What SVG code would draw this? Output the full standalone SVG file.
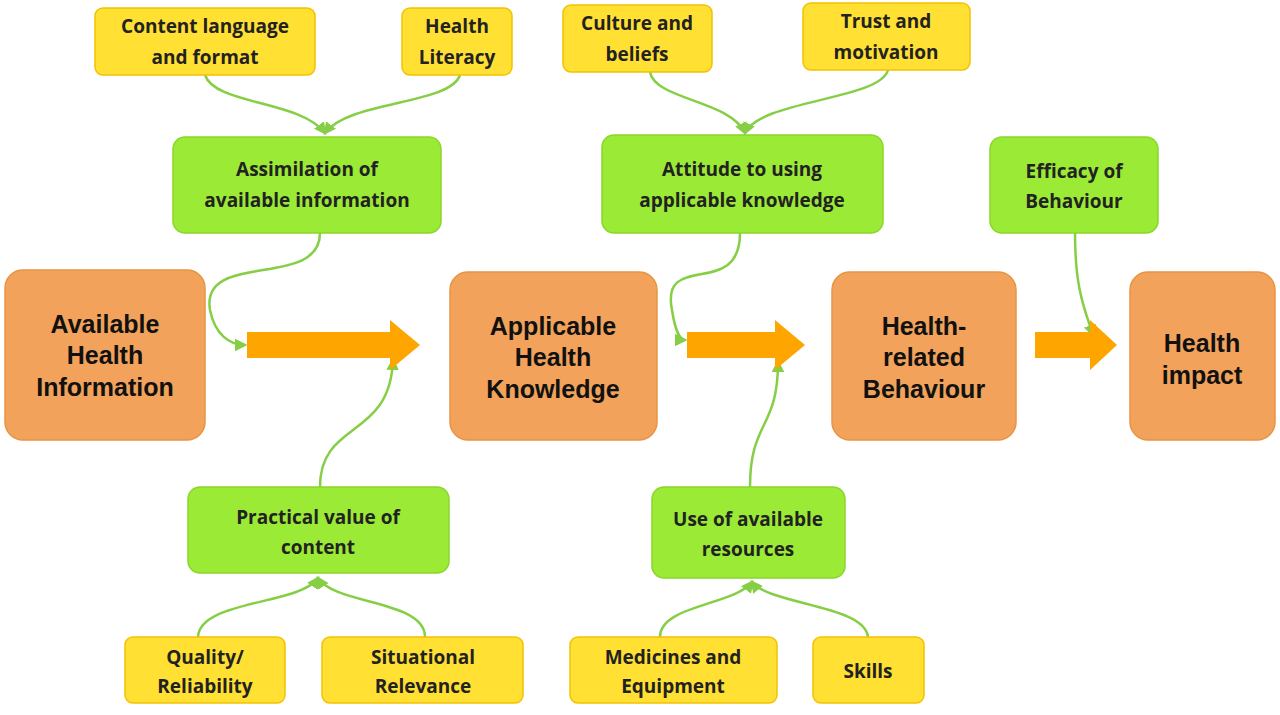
<svg xmlns="http://www.w3.org/2000/svg" width="1280" height="715" viewBox="0 0 1280 715">
<style>
.y{fill:#FFE033;stroke:#F2C200;stroke-width:1.5}
.g{fill:#9BEA35;stroke:#8AD62A;stroke-width:1.5}
.o{fill:#F2A25A;stroke:#E89445;stroke-width:1.5}
.t{font-family:"Open Sans","Liberation Sans",sans-serif;font-weight:bold;font-size:19px;fill:#222;text-anchor:middle}
.T{font-family:"Liberation Sans",Arial,sans-serif;font-weight:bold;font-size:25px;fill:#111;text-anchor:middle}
.c{fill:none;stroke:#86CE45;stroke-width:2.5}
.ba{fill:#FFA500}
</style>
<defs><marker id="a" viewBox="0 0 10 10" refX="8" refY="5" markerWidth="5" markerHeight="5" orient="auto"><path d="M0,0L10,5L0,10z" fill="#86CE45"/></marker></defs>
<rect width="1280" height="715" fill="#fff"/>
<g id="connectors">
<path class="c" marker-end="url(#a)" d="M205,75 C215,105 300,100 325,133"/>
<path class="c" marker-end="url(#a)" d="M460,75 C450,105 350,100 325,133"/>
<path class="c" marker-end="url(#a)" d="M650,72 C655,100 730,100 745,133"/>
<path class="c" marker-end="url(#a)" d="M888,70 C880,100 760,100 745,133"/>
<path class="c" marker-end="url(#a)" d="M320,233 C320,290 200,250 210,310 C215,335 230,345 245,345"/>
<path class="c" marker-end="url(#a)" d="M740,233 C740,300 660,250 672,310 C675,330 680,340 685,340"/>
<path class="c" marker-end="url(#a)" d="M1075,233 C1075,290 1085,310 1093,335"/>
<path class="c" marker-end="url(#a)" d="M320,487 C320,420 390,440 393,360"/>
<path class="c" marker-end="url(#a)" d="M750,487 C750,420 778,430 778,362"/>
<path class="c" marker-end="url(#a)" d="M198,637 C200,600 300,605 318,578"/>
<path class="c" marker-end="url(#a)" d="M425,637 C425,600 335,605 318,578"/>
<path class="c" marker-end="url(#a)" d="M660,637 C660,605 735,605 752,582"/>
<path class="c" marker-end="url(#a)" d="M868,637 C865,605 770,605 752,582"/>
<path class="ba" d="M247,332H390V320L420,345L390,370V358H247z"/>
<path class="ba" d="M687,332H775V320L805,345L775,370V358H687z"/>
<path class="ba" d="M1035,332H1090V320L1117,345L1090,370V358H1035z"/>
</g>
<g id="n1"><rect class="y" x="95" y="8" width="220" height="67" rx="8"/><text class="t" x="205" y="33">Content language</text><text class="t" x="205" y="64">and format</text></g>
<g id="n2"><rect class="y" x="402" y="8" width="110" height="67" rx="8"/><text class="t" x="457" y="33">Health</text><text class="t" x="457" y="64">Literacy</text></g>
<g id="n3"><rect class="y" x="563" y="5" width="149" height="67" rx="8"/><text class="t" x="637" y="30">Culture and</text><text class="t" x="637" y="61">beliefs</text></g>
<g id="n4"><rect class="y" x="803" y="3" width="167" height="67" rx="8"/><text class="t" x="886" y="28">Trust and</text><text class="t" x="886" y="59">motivation</text></g>
<g id="n5"><rect class="y" x="125" y="637" width="160" height="66" rx="8"/><text class="t" x="205" y="664">Quality/</text><text class="t" x="205" y="693">Reliability</text></g>
<g id="n6"><rect class="y" x="322" y="637" width="201" height="66" rx="8"/><text class="t" x="423" y="664">Situational</text><text class="t" x="423" y="693">Relevance</text></g>
<g id="n7"><rect class="y" x="570" y="637" width="207" height="66" rx="8"/><text class="t" x="673" y="664">Medicines and</text><text class="t" x="673" y="693">Equipment</text></g>
<g id="n8"><rect class="y" x="813" y="637" width="111" height="66" rx="8"/><text class="t" x="868" y="678">Skills</text></g>
<g id="n9"><rect class="g" x="173" y="137" width="268" height="96" rx="12"/><text class="t" x="307" y="176">Assimilation of</text><text class="t" x="307" y="207">available information</text></g>
<g id="n10"><rect class="g" x="602" y="135" width="281" height="98" rx="12"/><text class="t" x="742" y="176">Attitude to using</text><text class="t" x="742" y="207">applicable knowledge</text></g>
<g id="n11"><rect class="g" x="990" y="137" width="168" height="96" rx="12"/><text class="t" x="1074" y="178">Efficacy of</text><text class="t" x="1074" y="208">Behaviour</text></g>
<g id="n12"><rect class="g" x="188" y="487" width="261" height="86" rx="12"/><text class="t" x="318" y="524">Practical value of</text><text class="t" x="318" y="554">content</text></g>
<g id="n13"><rect class="g" x="652" y="487" width="193" height="91" rx="12"/><text class="t" x="748" y="526">Use of available</text><text class="t" x="748" y="556">resources</text></g>
<g id="n14"><rect class="o" x="5" y="270" width="200" height="170" rx="18"/><text class="T" x="105" y="333">Available</text><text class="T" x="105" y="364">Health</text><text class="T" x="105" y="396">Information</text></g>
<g id="n15"><rect class="o" x="450" y="272" width="207" height="168" rx="18"/><text class="T" x="553" y="335">Applicable</text><text class="T" x="553" y="366">Health</text><text class="T" x="553" y="398">Knowledge</text></g>
<g id="n16"><rect class="o" x="832" y="272" width="184" height="168" rx="18"/><text class="T" x="924" y="335">Health-</text><text class="T" x="924" y="366">related</text><text class="T" x="924" y="398">Behaviour</text></g>
<g id="n17"><rect class="o" x="1130" y="272" width="145" height="168" rx="18"/><text class="T" x="1202" y="352">Health</text><text class="T" x="1202" y="384">impact</text></g>
</svg>
